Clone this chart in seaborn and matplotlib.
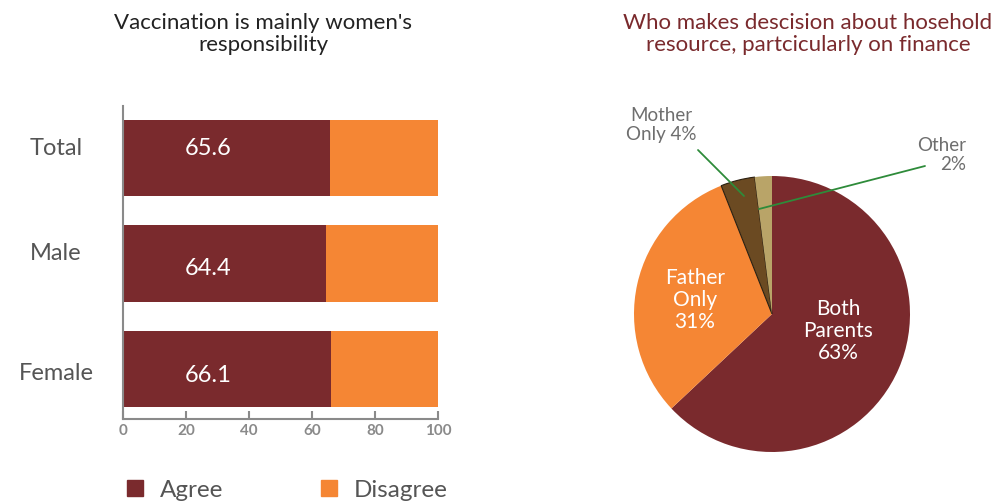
import matplotlib
matplotlib.use("Agg")
import matplotlib.pyplot as plt
import matplotlib.transforms as mtransforms
import seaborn as sns
import pandas as pd
from matplotlib.patches import Patch

# Data
categories = ["Total", "Male", "Female"]
agree = [65.6, 64.4, 66.1]
disagree = [34.4, 35.6, 33.9]
x_ticks = [0, 20, 40, 60, 80, 100]

pie_labels = ["Both\nParents\n63%", "Father\nOnly\n31%", "Mother\nOnly 4%", "Other\n2%"]
pie_values = [63, 31, 4, 2]

MAROON = "#7A2A2D"
ORANGE = "#F58634"
BROWN = "#6B4A22"
TAN = "#B9A468"
GREY = "#6E6E6E"

sns.set_theme(style="white")
plt.rcParams["font.family"] = ["Lato", "DejaVu Sans"]

fig = plt.figure(figsize=(9.95, 5.02), dpi=100)

# ---------- Left: stacked bar ----------
ax = fig.add_axes([123/995, 1-420/502, 315/995, 313/502])
df = pd.DataFrame({"cat": categories, "agree": agree,
                   "total": [a + d for a, d in zip(agree, disagree)]})
sns.barplot(data=df, y="cat", x="total", orient="h", color=ORANGE,
            width=0.72, ax=ax, saturation=1)
sns.barplot(data=df, y="cat", x="agree", orient="h", color=MAROON,
            width=0.72, ax=ax, saturation=1)
for p in ax.patches:
    p.set_edgecolor("none")
ax.set_xlim(0, 100)
ax.set_ylim(2.47, -0.49)
ax.set_xlabel("")
ax.set_ylabel("")
ax.set_xticks(x_ticks)
ax.set_xticklabels([str(t) for t in x_ticks], fontsize=11, fontweight="bold", color="#8A8A8A")
ax.set_yticks(range(len(categories)))
ax.set_yticklabels([])
ax.tick_params(axis="y", length=0)
ax.tick_params(axis="x", direction="in", length=6, width=1.5, color="#8A8A8A", pad=3, bottom=True)
for s in ["top", "right"]:
    ax.spines[s].set_visible(False)
for s in ["left", "bottom"]:
    ax.spines[s].set_color("#8A8A8A")
    ax.spines[s].set_linewidth(1.5)

# category labels (centered left of the axis)
trans = mtransforms.blended_transform_factory(fig.transFigure, ax.transData)
label_offsets = [-0.10, -0.10, 0.03]
for i, (c, off) in enumerate(zip(categories, label_offsets)):
    ax.text(56/995, i + off, c, transform=trans, fontsize=17, color="#555555",
            ha="center", va="center")

value_offsets = [-0.10, 0.035, 0.05]
for i, (v, off) in enumerate(zip(agree, value_offsets)):
    ax.text(27, i + off, f"{v}", color="white", fontsize=17, ha="center", va="center")

fig.text(263/995, 1-34/502, "Vaccination is mainly women's\nresponsibility",
         ha="center", va="center", fontsize=16, color="#222222", linespacing=1.1)

# Legend
handles = [Patch(color=MAROON, label="Agree"), Patch(color=ORANGE, label="Disagree")]
fig.legend(handles=handles, loc="center left", bbox_to_anchor=(127/995, 1-491/502),
           ncol=2, frameon=False, fontsize=17.5, handlelength=0.66, handleheight=0.66,
           columnspacing=4.0, handletextpad=0.7, labelcolor="#555555",
           borderpad=0, borderaxespad=0)

# ---------- Right: pie ----------
r = 138
cy = 315
axp = fig.add_axes([(772-r)/995, 1-(cy+r)/502, 2*r/995, 2*r/502])
wedges, _ = axp.pie(pie_values, colors=[MAROON, ORANGE, BROWN, TAN], startangle=90,
                    counterclock=False, radius=1.0,
                    wedgeprops=dict(linewidth=0))
wedges[2].set_edgecolor("#2a1f10")
wedges[2].set_linewidth(0.8)
axp.set_xlim(-1, 1)
axp.set_ylim(-1, 1)
axp.set_aspect("equal")
axp.axis("off")

fig.text(838/995, 1-331/502, pie_labels[0], color="white", fontsize=15,
         ha="center", va="center", linespacing=1.15)
fig.text(695/995, 1-300/502, pie_labels[1], color="white", fontsize=15,
         ha="center", va="center", linespacing=1.15)
fig.text(661/995, 1-125/502, pie_labels[2], color=GREY, fontsize=13.5,
         ha="center", va="center", linespacing=1.1)
fig.text(966/995, 1-155/502, pie_labels[3], color=GREY, fontsize=13.5,
         ha="right", va="center", multialignment="right", linespacing=1.1)

fig.add_artist(plt.Line2D([698/995, 744/995], [1-151/502, 1-197/502],
                          color="#2E8B3A", linewidth=1.3))
fig.add_artist(plt.Line2D([925/995, 759/995], [1-167/502, 1-210/502],
                          color="#2E8B3A", linewidth=1.3))

fig.text(808/995, 1-34/502, "Who makes descision about hosehold\nresource, partcicularly on finance",
         ha="center", va="center", fontsize=16, color="#7A2A2D", linespacing=1.1)

fig.savefig("out.png", dpi=100)
